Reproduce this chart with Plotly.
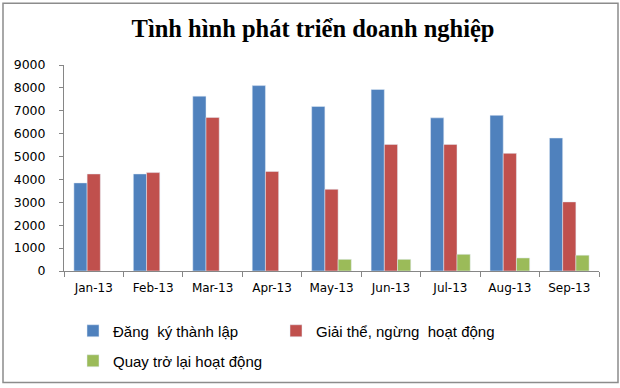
import plotly.graph_objects as go

months = ["Jan-13", "Feb-13", "Mar-13", "Apr-13", "May-13", "Jun-13", "Jul-13", "Aug-13", "Sep-13"]
dang_ky = [3850, 4240, 7640, 8100, 7190, 7930, 6690, 6800, 5810]
giai_the = [4240, 4300, 6710, 4350, 3570, 5530, 5530, 5140, 3020]
quay_tro_lai = [None, None, None, None, 510, 510, 730, 570, 690]

names = ["Đăng  ký thành lập", "Giải thể, ngừng  hoạt động", "Quay trở lại hoạt động"]
colors = ["#4F81BD", "#C0504D", "#9BBB59"]

fig = go.Figure()
fig.add_trace(go.Bar(x=months, y=dang_ky, name=names[0], marker_color=colors[0], legend="legend"))
fig.add_trace(go.Bar(x=months, y=giai_the, name=names[1], marker_color=colors[1], legend="legend3"))
fig.add_trace(go.Bar(x=months, y=quay_tro_lai, name=names[2], marker_color=colors[2], legend="legend2"))

L, R, T, B = 64, 21, 65, 116
W, H = 620, 388
pw, ph = W - L - R, H - T - B

def px_x(x):
    return (x - L) / pw

def px_y(y):
    return (H - B - y) / ph

legend_font = dict(family="Liberation Sans, Arial, sans-serif", size=15, color="#000000")

def leg(xpx, ypx):
    return dict(orientation="h", x=px_x(xpx), xanchor="left", y=px_y(ypx), yanchor="middle",
                font=legend_font, bgcolor="rgba(0,0,0,0)")

fig.update_layout(
    width=W, height=H,
    margin=dict(l=L, r=R, t=T, b=B),
    paper_bgcolor="white", plot_bgcolor="white",
    barmode="group", bargap=0.333, bargroupgap=0,
    title=dict(text="<b>Tình hình phát triển doanh nghiệp</b>",
               font=dict(family="Liberation Serif, Times New Roman, serif", size=24.5, color="#000000"),
               x=px_x(313), xanchor="center", xref="paper", y=1 - 28 / H, yanchor="middle", yref="container"),
    showlegend=True,
    legend=leg(73, 331),
    legend3=leg(276, 331),
    legend2=leg(73, 361),
    xaxis=dict(showline=True, linecolor="#868686", linewidth=1, ticks="outside", ticklen=5,
               tickcolor="#868686", tickson="boundaries", showgrid=False,
               tickfont=dict(family="DejaVu Sans, Verdana, sans-serif", size=12, color="#000000"),
               ticklabelstandoff=6),
    yaxis=dict(range=[0, 9000], tickvals=list(range(0, 9001, 1000)), showline=True,
               linecolor="#868686", linewidth=1, ticks="outside", ticklen=4, tickcolor="#868686",
               showgrid=False, zeroline=False,
               tickfont=dict(family="DejaVu Sans, Verdana, sans-serif", size=12.5, color="#000000"),
               ticklabelstandoff=11),
    shapes=[dict(type="rect", xref="paper", yref="paper",
                 x0=px_x(3), x1=px_x(618), y0=px_y(384), y1=px_y(3),
                 line=dict(color="#8c8c8c", width=1.5), fillcolor="rgba(0,0,0,0)", layer="below")],
)

fig.write_html("out.html")
